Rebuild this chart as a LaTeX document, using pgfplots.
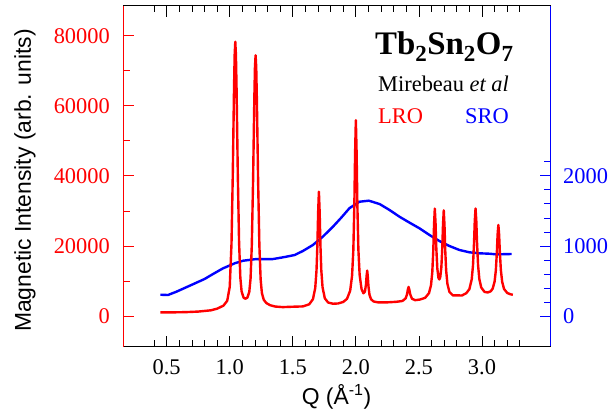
\documentclass[border=0pt]{standalone}
\usepackage{pgfplots}
\pgfplotsset{compat=1.18}
\usepackage{pgfplotstable}
\usepackage{fontspec}
\setmainfont{Liberation Serif}
\setsansfont{Liberation Sans}

\pgfplotstableread{
q v
0.45 1040
0.55 1050
0.65 1110
0.75 1270
0.85 1630
0.90 2100
0.95 2960
0.98 4350
1.000 8330
1.014 20700
1.024 40110
1.029 52670
1.034 64980
1.039 74490
1.044 78280
1.049 74600
1.054 65120
1.059 52820
1.064 40300
1.074 21080
1.084 11000
1.094 7014
1.110 5220
1.125 4943
1.140 5270
1.155 6900
1.165 10680
1.175 20250
1.185 38550
1.190 50420
1.195 62070
1.200 71060
1.205 74400
1.210 71040
1.215 62030
1.220 50360
1.225 38470
1.235 20090
1.245 10440
1.255 6544
1.270 4620
1.290 3713
1.320 3090
1.360 2713
1.420 2546
1.500 2655
1.580 2742
1.630 3344
1.660 4816
1.678 8020
1.688 13040
1.695 20290
1.701 29670
1.707 35500
1.713 29680
1.719 20310
1.726 13070
1.736 8170
1.754 5056
1.780 3850
1.820 3505
1.860 3590
1.900 4020
1.930 4913
1.955 7240
1.970 11520
1.980 18800
1.988 31600
1.994 46550
2.000 55900
2.006 46660
2.012 31740
2.020 19000
2.030 11720
2.045 7707
2.060 6486
2.072 6970
2.080 8942
2.085 11380
2.090 12975
2.095 11150
2.100 8493
2.108 6100
2.120 4813
2.140 4160
2.180 3875
2.250 3907
2.320 4056
2.370 4300
2.395 5050
2.405 6090
2.412 7460
2.418 8300
2.424 7560
2.431 6200
2.445 4950
2.470 4520
2.510 4717
2.550 5212
2.580 6533
2.596 8817
2.606 12460
2.614 18740
2.620 26060
2.626 30656
2.632 26345
2.638 19334
2.646 13537
2.655 10900
2.662 10435
2.669 11034
2.678 13925
2.685 19100
2.691 25950
2.697 30176
2.703 25700
2.709 18560
2.716 13010
2.726 9163
2.742 6870
2.770 5882
2.800 5910
2.840 5850
2.875 6495
2.900 7650
2.919 10510
2.929 14540
2.937 20830
2.943 27170
2.949 30700
2.955 27180
2.961 20840
2.969 14560
2.979 10580
2.994 8157
3.020 6894
3.046 6716
3.070 7075
3.085 7833
3.100 9816
3.110 13050
3.118 18110
3.124 23220
3.130 26000
3.136 23210
3.142 18100
3.150 13040
3.160 9800
3.175 7713
3.200 6592
3.225 6220
3.245 6060
}\lro

\pgfplotstableread{
q v
0.45 304
0.51 300
0.577 347
0.682 432
0.80 528
0.867 599
0.946 680
1.039 752
1.105 789
1.211 813
1.342 813
1.42 837
1.514 870
1.58 928
1.659 1013
1.738 1132
1.818 1274
1.884 1403
1.95 1540
2.029 1631
2.103 1646
2.188 1598
2.267 1513
2.346 1417
2.426 1332
2.505 1251
2.584 1156
2.663 1070
2.742 999
2.822 942
2.901 909
2.98 895
3.06 889
3.113 880
3.235 885
}\sro

\begin{document}
\begin{tikzpicture}
\pgfplotsset{
  common/.style={
    scale only axis, width=427.4bp, height=341bp,
    xmin=0.156, xmax=3.545,
    tick align=inside,
    major tick length=11bp, minor tick length=6.5bp,
    every tick/.append style={line width=0.8bp},
    /pgf/number format/assume math mode=true,
    ticklabel style={font=\rmfamily\fontsize{22.5}{27}\selectfont},
  }
}
\begin{axis}[
  common, name=sroax,
  ymin=-437.6, ymax=4428,
  axis x line=none,
  axis y line*=right,
  y axis line style={blue, line width=0.8bp, -},
  ytick={0,1000,2000},
  minor ytick={200,400,600,800,1200,1400,1600,1800,2200},
  y tick style={blue},
  minor y tick style={blue},
  scaled y ticks=false,
  yticklabel={\pgfmathprintnumber[assume math mode=true,fixed,precision=0,1000 sep={}]{\tick}},
  yticklabel style={blue, anchor=west, inner sep=0pt, xshift=12.3bp},
]
\addplot[blue, line width=2.4bp, line join=round] table[x=q, y=v] {\sro};
\end{axis}
\begin{axis}[
  common, name=main,
  ymin=-8753, ymax=88562,
  axis x line*=box,
  axis y line*=left,
  x axis line style={black, line width=0.8bp, -},
  y axis line style={red, line width=0.8bp, -},
  xtick={0.5,1.0,1.5,2.0,2.5,3.0},
  minor xtick={0.4,0.6,0.7,0.8,0.9,1.1,1.2,1.3,1.4,1.6,1.7,1.8,1.9,2.1,2.2,2.3,2.4,2.6,2.7,2.8,2.9,3.1,3.2,3.3},
  xtick pos=both,
  ytick={0,20000,40000,60000,80000},
  minor ytick={10000,30000,50000,70000},
  y tick style={red}, minor y tick style={red},
  x tick style={black}, minor x tick style={black},
  scaled y ticks=false,
  xticklabel={\pgfmathprintnumber[assume math mode=true,fixed,fixed zerofill,precision=1]{\tick}},
  yticklabel={\pgfmathprintnumber[assume math mode=true,fixed,precision=0,1000 sep={}]{\tick}},
  xticklabel style={black, anchor=base, inner sep=0pt, yshift=-27.3bp},
  yticklabel style={red, anchor=east, inner sep=0pt, xshift=-13.3bp},
]
\addplot[red, line width=2.4bp, line join=round] table[x=q, y=v] {\lro};
\end{axis}
\path (main.south west) ++(-98.3bp,166.2bp) node[rotate=90, anchor=center, inner sep=0pt, font=\sffamily\fontsize{23}{27}\selectfont] {Magnetic Intensity (arb. units)};
\path (main.south west) ++(213.2bp,-57.3bp) node[anchor=base, inner sep=0pt, font=\sffamily\fontsize{23}{27}\selectfont] {Q (Å\textsuperscript{-1})};
\path (main.south west) ++(251.7bp,291.7bp) node[anchor=base west, inner sep=0pt, font=\fontsize{33}{36}\selectfont\bfseries] {Tb\textsubscript{2}Sn\textsubscript{2}O\textsubscript{7}};
\path (main.south west) ++(254.7bp,255bp) node[anchor=base west, inner sep=0pt, font=\fontsize{22.5}{27}\selectfont] {Mirebeau \textit{et al}};
\path (main.south west) ++(254.7bp,222.7bp) node[anchor=base west, inner sep=0pt, text=red, font=\fontsize{22.5}{27}\selectfont] {LRO};
\path (main.south west) ++(341.7bp,222.7bp) node[anchor=base west, inner sep=0pt, text=blue, font=\fontsize{22.5}{27}\selectfont] {SRO};
\pgfresetboundingbox
\path[use as bounding box] (main.south west) ++(-123.3bp,-68.3bp) rectangle ++(613bp,415bp);
\end{tikzpicture}
\end{document}
